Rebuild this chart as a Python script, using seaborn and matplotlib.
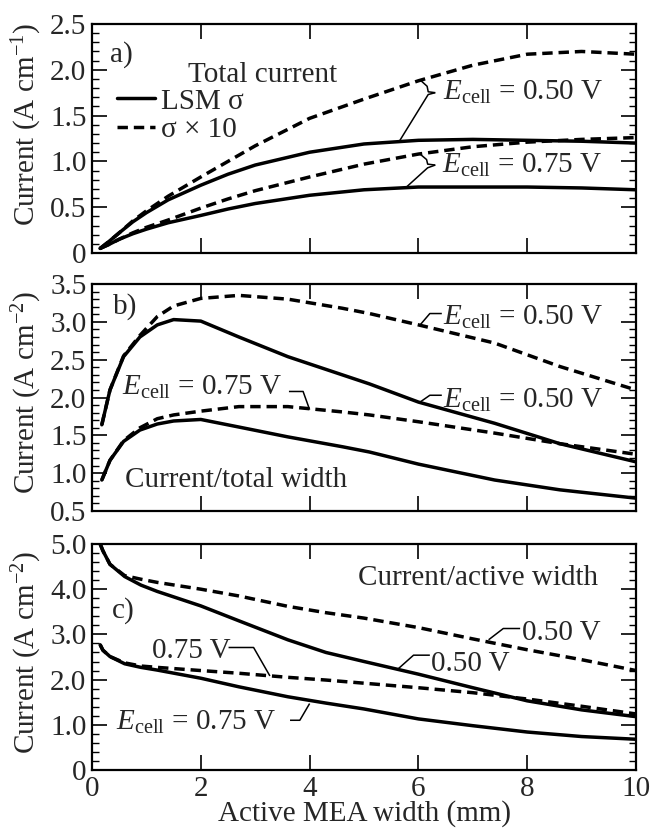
import matplotlib
matplotlib.use("Agg")
import matplotlib.pyplot as plt
import seaborn as sns
import pandas as pd
from matplotlib.lines import Line2D
from matplotlib.ticker import MultipleLocator, NullLocator

# ---------------- data ----------------
x_ticks = [0, 2, 4, 6, 8, 10]
x_ticklabels = ["0", "2", "4", "6", "8", "10"]

# panel a: total current (A cm^-1)
a_x = [0.15, 0.3, 0.5, 0.75, 1, 1.4, 2, 2.5, 3, 4, 5, 6, 7, 8, 9, 10]
a_lsm_050 = [0.05, 0.12, 0.22, 0.34, 0.44, 0.58, 0.74, 0.86, 0.96, 1.10, 1.19, 1.23, 1.24, 1.23, 1.22, 1.20]
a_x10_050 = [0.05, 0.12, 0.22, 0.35, 0.46, 0.62, 0.83, 1.00, 1.17, 1.47, 1.68, 1.88, 2.05, 2.17, 2.20, 2.17]
a_lsm_075 = [0.05, 0.09, 0.15, 0.21, 0.26, 0.33, 0.41, 0.48, 0.54, 0.63, 0.69, 0.72, 0.72, 0.72, 0.71, 0.69]
a_x10_075 = [0.05, 0.09, 0.15, 0.22, 0.28, 0.36, 0.49, 0.59, 0.68, 0.83, 0.97, 1.08, 1.16, 1.21, 1.24, 1.26]
a_yticks = [0, 0.5, 1.0, 1.5, 2.0, 2.5]
a_yticklabels = ["0", "0.5", "1.0", "1.5", "2.0", "2.5"]

# panel b: current / total width (A cm^-2)
b_x = [0.18, 0.33, 0.58, 0.88, 1.2, 1.5, 2, 2.7, 3.6, 4.6, 5.1, 6, 7.4, 8.6, 10]
b_lsm_050 = [1.64, 2.10, 2.54, 2.80, 2.96, 3.03, 3.01, 2.80, 2.54, 2.30, 2.18, 1.94, 1.66, 1.39, 1.15]
b_x10_050 = [1.64, 2.10, 2.55, 2.82, 3.07, 3.21, 3.31, 3.35, 3.30, 3.18, 3.11, 2.96, 2.72, 2.41, 2.10]
b_lsm_075 = [0.91, 1.17, 1.42, 1.57, 1.65, 1.69, 1.71, 1.61, 1.48, 1.35, 1.28, 1.12, 0.91, 0.78, 0.67]
b_x10_075 = [0.91, 1.17, 1.43, 1.60, 1.72, 1.77, 1.82, 1.88, 1.88, 1.81, 1.77, 1.68, 1.53, 1.39, 1.25]
b_yticks = [0.5, 1.0, 1.5, 2.0, 2.5, 3.0, 3.5]
b_yticklabels = ["0.5", "1.0", "1.5", "2.0", "2.5", "3.0", "3.5"]

# panel c: current / active width (A cm^-2)
c_x = [0.15, 0.2, 0.33, 0.6, 0.9, 1.2, 2, 2.7, 3.6, 4.3, 5, 6, 7, 8, 9, 10]
c_lsm_050 = [5.00, 4.85, 4.55, 4.28, 4.09, 3.95, 3.63, 3.30, 2.88, 2.60, 2.40, 2.12, 1.82, 1.53, 1.33, 1.18]
c_x10_050 = [5.00, 4.85, 4.55, 4.30, 4.22, 4.15, 4.00, 3.85, 3.62, 3.48, 3.36, 3.15, 2.90, 2.66, 2.44, 2.20]
c_lsm_075 = [2.77, 2.65, 2.51, 2.35, 2.27, 2.21, 2.03, 1.84, 1.62, 1.48, 1.35, 1.13, 0.98, 0.84, 0.74, 0.68]
c_x10_075 = [2.77, 2.65, 2.51, 2.37, 2.30, 2.27, 2.20, 2.14, 2.05, 1.99, 1.92, 1.82, 1.71, 1.57, 1.41, 1.24]
c_yticks = [0, 1, 2, 3, 4, 5]
c_yticklabels = ["0", "1.0", "2.0", "3.0", "4.0", "5.0"]

sigma_labels = ["LSM σ", "σ × 10"]
volt_labels = ["0.50 V", "0.75 V"]


def frame(x, lsm050, x10050, lsm075, x10075):
    rows = []
    for sig, volt, ys in [(sigma_labels[0], volt_labels[0], lsm050),
                          (sigma_labels[1], volt_labels[0], x10050),
                          (sigma_labels[0], volt_labels[1], lsm075),
                          (sigma_labels[1], volt_labels[1], x10075)]:
        for xi, yi in zip(x, ys):
            rows.append({"x": xi, "y": yi, "sigma": sig, "volt": volt})
    return pd.DataFrame(rows)


df_a = frame(a_x, a_lsm_050, a_x10_050, a_lsm_075, a_x10_075)
df_b = frame(b_x, b_lsm_050, b_x10_050, b_lsm_075, b_x10_075)
df_c = frame(c_x, c_lsm_050, c_x10_050, c_lsm_075, c_x10_075)

# ---------------- style ----------------
sns.set_theme(style="ticks")
plt.rcParams["font.family"] = ["Liberation Serif", "DejaVu Serif"]
plt.rcParams["mathtext.fontset"] = "custom"
plt.rcParams["mathtext.rm"] = "Liberation Serif"
plt.rcParams["mathtext.it"] = "Liberation Serif:italic"
plt.rcParams["axes.linewidth"] = 1.6

FS = 21
LW = 2.5
DASH = (3.0, 1.7)
dashes = {sigma_labels[0]: "", sigma_labels[1]: DASH}

fig = plt.figure(figsize=(6.54, 8.30), dpi=100)
ax_a = fig.add_axes([0.1407, 0.6952, 0.8318, 0.2759])
ax_b = fig.add_axes([0.1407, 0.3843, 0.8318, 0.2735])
ax_c = fig.add_axes([0.1407, 0.0723, 0.8318, 0.2723])

panels = [
    (ax_a, df_a, (0, 2.5), a_yticks, a_yticklabels, 0.1, r"Current (A cm$^{\mathrm{-1}}$)", 0.56),
    (ax_b, df_b, (0.5, 3.5), b_yticks, b_yticklabels, 0.1, r"Current (A cm$^{\mathrm{-2}}$)", 0.52),
    (ax_c, df_c, (0, 5.0), c_yticks, c_yticklabels, 0.2, r"Current (A cm$^{\mathrm{-2}}$)", 0.52),
]

for ax, df, ylim, yt, ytl, minor, ylab, ylab_y in panels:
    sns.lineplot(data=df, x="x", y="y", style="sigma", units="volt", estimator=None,
                 style_order=sigma_labels, dashes=dashes, color="black",
                 linewidth=LW, legend=False, sort=False, ax=ax)
    ax.set_xlim(0, 10)
    ax.set_ylim(*ylim)
    ax.set_yticks(yt)
    ax.set_yticklabels(ytl, fontsize=FS)
    ax.yaxis.set_minor_locator(MultipleLocator(minor))
    ax.set_xticks(x_ticks)
    ax.xaxis.set_minor_locator(NullLocator())
    ax.tick_params(which="both", direction="in", top=True, right=True, color="black")
    ax.tick_params(which="major", length=11, width=1.2)
    ax.tick_params(axis="y", which="major", pad=4)
    ax.tick_params(axis="x", which="major", pad=4)
    ax.tick_params(which="minor", length=5, width=1.0)
    ax.set_ylabel(ylab, fontsize=FS)
    ax.yaxis.set_label_coords(-0.088, ylab_y)
    ax.set_xlabel("")
    for s in ax.spines.values():
        s.set_color("black")
        s.set_linewidth(1.6)

ax_a.set_xticklabels([])
ax_b.set_xticklabels([])
ax_c.set_xticklabels(x_ticklabels, fontsize=FS)
ax_c.set_xlabel("Active MEA width (mm)", fontsize=FS, labelpad=-1)

# ---------------- annotations ----------------
E50 = r"$E_{\mathrm{cell}}$ = 0.50 V"
E75 = r"$E_{\mathrm{cell}}$ = 0.75 V"
LEAD = dict(color="black", lw=1.1, solid_capstyle="butt")

# panel a
ax_a.text(0.33, 2.09, "a)", fontsize=FS)
ax_a.text(1.77, 1.87, "Total current", fontsize=FS)
handles = [Line2D([], [], color="black", lw=LW),
           Line2D([], [], color="black", lw=LW, linestyle=(0, DASH))]
ax_a.legend(handles, sigma_labels, loc="upper left", bbox_to_anchor=(0.046, 0.72),
            frameon=False, fontsize=FS, handlelength=1.3, handletextpad=0.2,
            labelspacing=0.08, borderpad=0, borderaxespad=0)
ax_a.text(6.46, 1.67, E50, fontsize=FS)
ax_a.plot([6.03, 6.16, 6.18, 6.31], [1.89, 1.82, 1.76, 1.75], **LEAD)
ax_a.plot([6.31, 6.18, 5.66], [1.75, 1.73, 1.23], **LEAD)
ax_a.text(6.43, 0.87, E75, fontsize=FS)
ax_a.plot([6.03, 6.15, 6.17, 6.31], [1.08, 1.02, 0.97, 0.96], **LEAD)
ax_a.plot([6.31, 6.17, 5.78], [0.96, 0.93, 0.72], **LEAD)

# panel b
ax_b.text(0.39, 3.11, "b)", fontsize=FS)
ax_b.text(0.61, 0.82, "Current/total width", fontsize=FS)
ax_b.text(6.46, 2.96, E50, fontsize=FS)
ax_b.plot([6.43, 6.21, 6.02], [3.11, 3.11, 2.95], **LEAD)
ax_b.text(6.46, 1.86, E50, fontsize=FS)
ax_b.plot([6.43, 6.21, 6.03], [2.03, 2.03, 1.94], **LEAD)
ax_b.text(0.55, 2.03, E75, fontsize=FS)
ax_b.plot([3.62, 3.88, 4.0], [2.08, 2.08, 1.84], **LEAD)

# panel c
ax_c.text(0.36, 3.36, "c)", fontsize=FS)
ax_c.text(4.89, 4.09, "Current/active width", fontsize=FS)
ax_c.text(7.9, 2.88, "0.50 V", fontsize=FS)
ax_c.plot([7.87, 7.56, 7.29], [3.13, 3.13, 2.88], **LEAD)
ax_c.text(6.24, 2.18, "0.50 V", fontsize=FS)
ax_c.plot([6.21, 5.91, 5.63], [2.54, 2.54, 2.24], **LEAD)
ax_c.text(1.1, 2.47, "0.75 V", fontsize=FS)
ax_c.plot([2.51, 2.97, 3.27], [2.71, 2.71, 2.08], **LEAD)
ax_c.text(0.45, 0.88, E75, fontsize=FS)
ax_c.plot([3.64, 3.82, 4.0], [1.1, 1.1, 1.47], **LEAD)

fig.savefig("out.png", dpi=100, facecolor="white")
